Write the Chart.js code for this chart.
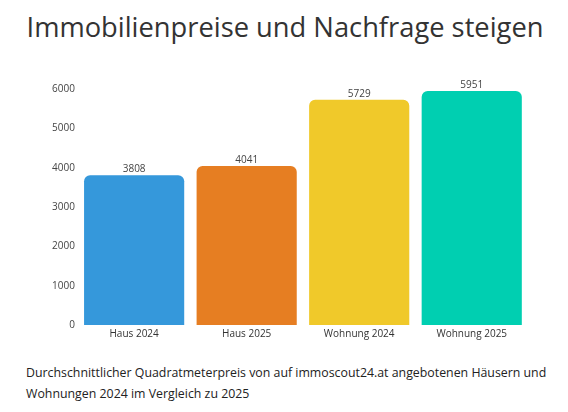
<!DOCTYPE html>
<html>
<head>
<meta charset="utf-8">
<script src="https://cdn.jsdelivr.net/npm/chart.js@4"></script>
<style>
  body{margin:0;background:#fff;width:568px;height:412px;overflow:hidden;font-family:"Open Sans",sans-serif;}
  #title{position:absolute;left:0;top:8px;width:570px;text-align:center;font-size:27.3px;color:#333;}
  #wrap{position:absolute;left:0;top:70px;width:568px;height:273px;}
  #caption{position:absolute;left:26px;top:362px;width:540px;font-size:12.35px;line-height:21px;color:#222;}
</style>
</head>
<body>
<div id="title">Immobilienpreise und Nachfrage steigen</div>
<div id="wrap"><canvas id="priceChart"></canvas></div>
<div id="caption">Durchschnittlicher Quadratmeterpreis von auf immoscout24.at angebotenen Häusern und<br>Wohnungen 2024 im Vergleich zu 2025</div>
<script>
var categories = ["Haus 2024","Haus 2025","Wohnung 2024","Wohnung 2025"];
var prices = [3808,4041,5729,5951];
var barColors = ["#3598db","#e67e22","#f0c92a","#00cfb1"];
var yTicks = [0,1000,2000,3000,4000,5000,6000];

// draws the value above every bar
var valueLabels = {
  id:'valueLabels',
  afterDatasetsDraw:function(chart){
    var ctx = chart.ctx;
    var meta = chart.getDatasetMeta(0);
    ctx.save();
    ctx.font = "10px 'Open Sans'";
    ctx.fillStyle = "#444";
    ctx.textAlign = "center";
    ctx.textBaseline = "bottom";
    meta.data.forEach(function(bar,i){
      ctx.fillText(chart.data.datasets[0].data[i], bar.x, bar.y-1);
    });
    ctx.restore();
  }
};

var ctx = document.getElementById("priceChart");
var chart = new Chart(ctx,{
  type:'bar',
  data:{
    labels:categories,
    datasets:[{
      label:"",
      data:prices,
      backgroundColor:barColors,
      borderRadius:{topLeft:6,topRight:6,bottomLeft:0,bottomRight:0},
      borderSkipped:false,
      barPercentage:0.89,
      categoryPercentage:1
    }]
  },
  options:{
    responsive:true,
    maintainAspectRatio:false,
    animation:false,
    layout:{padding:{left:49,right:40,top:19,bottom:0}},
    plugins:{legend:{display:false},tooltip:{enabled:false}},
    scales:{
      x:{
        grid:{display:false,drawTicks:false},
        border:{display:false},
        ticks:{color:"#333",font:{family:"Open Sans",size:10},padding:3}
      },
      y:{
        min:0,max:6000,
        afterBuildTicks:function(axis){ axis.ticks = yTicks.map(function(v){return {value:v};}); },
        grid:{display:false,drawTicks:false},
        border:{display:false},
        ticks:{color:"#444",font:{family:"Open Sans",size:10},padding:3,
          callback:function(v){ return String(v); }}
      }
    }
  },
  plugins:[valueLabels]
});
</script>
</body>
</html>
